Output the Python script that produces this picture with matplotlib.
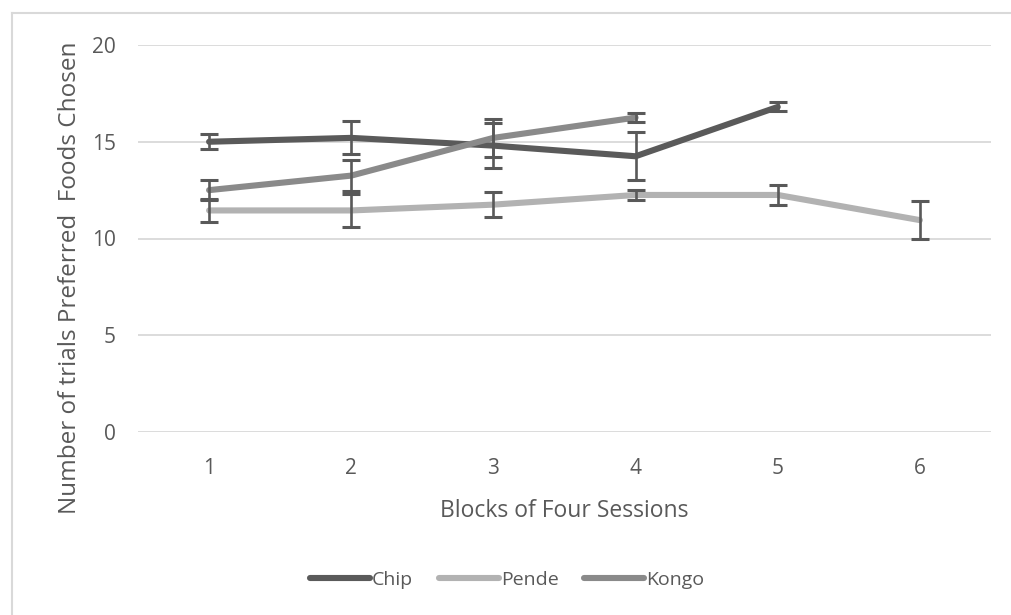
import matplotlib
matplotlib.use('Agg')
import matplotlib.pyplot as plt
from matplotlib.lines import Line2D

plt.rcParams['font.family'] = ['Open Sans', 'DejaVu Sans']

# data
chip_x = [1, 2, 3, 4, 5]
chip_y = [15.0, 15.2, 14.8, 14.25, 16.8]
chip_err = [0.4, 0.85, 1.15, 1.25, 0.23]

pende_x = [1, 2, 3, 4, 5, 6]
pende_y = [11.45, 11.45, 11.75, 12.25, 12.25, 10.95]
pende_err = [0.6, 0.85, 0.65, 0.25, 0.5, 1.0]

kongo_x = [1, 2, 3, 4]
kongo_y = [12.5, 13.25, 15.2, 16.25]
kongo_err = [0.5, 0.8, 1.0, 0.25]

x_ticks = [1, 2, 3, 4, 5, 6]
y_ticks = [0, 5, 10, 15, 20]

text_col = '#595959'
bar_col = '#595959'

fig = plt.figure(figsize=(10.11, 6.15), dpi=100)
ax = fig.add_axes([138/1011, 183/615, 853/1011, 387/615])

series = [
    ('Chip', chip_x, chip_y, chip_err, '#5a5a5a'),
    ('Pende', pende_x, pende_y, pende_err, '#b2b2b2'),
    ('Kongo', kongo_x, kongo_y, kongo_err, '#8a8a8a'),
]

for i, (name, xs, ys, errs, col) in enumerate(series):
    ax.plot(xs, ys, color=col, lw=4.4, solid_capstyle='round',
            solid_joinstyle='round', label=name, zorder=3 + i)

for name, xs, ys, errs, col in series:
    ax.errorbar(xs, ys, yerr=errs, fmt='none', ecolor=bar_col,
                elinewidth=1.9, capsize=6.5, capthick=2.2, zorder=10)

ax.set_xlim(0.5, 6.5)
ax.set_ylim(0, 20)
ax.set_xticks(x_ticks)
ax.set_yticks(y_ticks)
ax.yaxis.grid(True, color='#d9d9d9', lw=1.3)
ax.set_axisbelow(True)
for s in ax.spines.values():
    s.set_visible(False)
ax.tick_params(length=0, labelsize=15, labelcolor=text_col)
ax.tick_params(axis='x', pad=19)
ax.tick_params(axis='y', pad=16)

ax.set_xlabel('Blocks of Four Sessions', fontsize=16.5, color=text_col, labelpad=14)
# y title sits a bit below the plot centre in the original
fig.text(70/1011, 1 - 278/615, 'Number of trials Preferred  Foods Chosen',
         rotation=90, ha='center', va='center', fontsize=17.5, color=text_col)

handles = [Line2D([0], [0], color=c, lw=4.4, solid_capstyle='round')
           for _, _, _, _, c in series]
fig.legend(handles, [s[0] for s in series], loc='center',
           bbox_to_anchor=(507/1011, 1 - 580/615), ncol=3, frameon=False,
           fontsize=14, handlelength=3.1, handletextpad=0.1,
           columnspacing=1.3, labelcolor=text_col)

# outer chart frame (cut at right and bottom in the original)
fig.add_artist(Line2D([12/1011, 1], [1 - 13/615, 1 - 13/615],
                      color='#d9d9d9', lw=1.5))
fig.add_artist(Line2D([12/1011, 12/1011], [0, 1 - 13/615],
                      color='#d9d9d9', lw=1.5))

fig.savefig('out.png', dpi=100)
